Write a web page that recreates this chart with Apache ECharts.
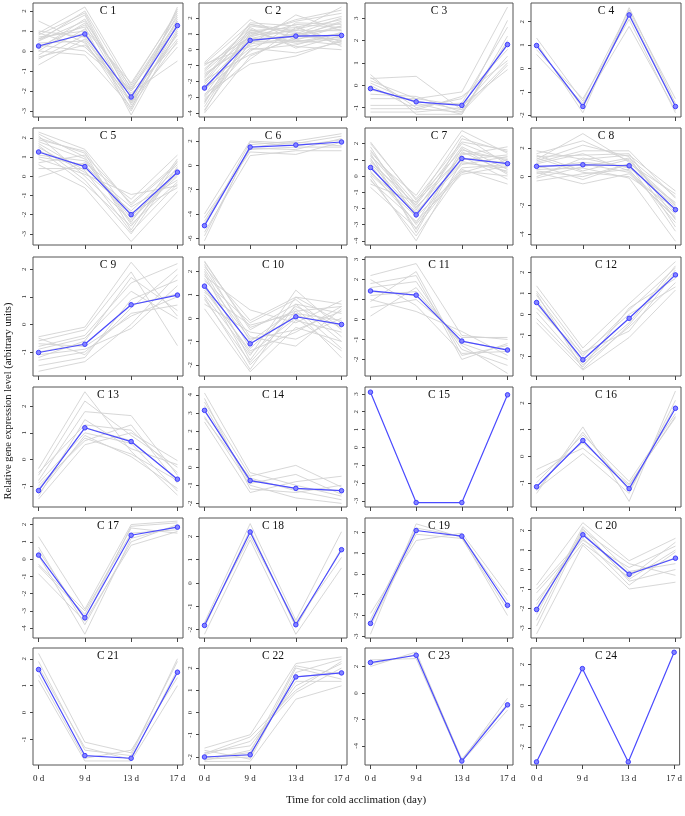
<!DOCTYPE html>
<html><head><meta charset="utf-8">
<script src="https://cdn.jsdelivr.net/npm/echarts@6/dist/echarts.min.js"></script>
<style>html,body{margin:0;padding:0;background:#fff}#c{width:685px;height:816px}</style>
</head><body><div id="c"></div>
<script>
const days = ['0 d', '9 d', '13 d', '17 d'];
const panelNames = ['C 1','C 2','C 3','C 4','C 5','C 6','C 7','C 8','C 9','C 10','C 11','C 12',
  'C 13','C 14','C 15','C 16','C 17','C 18','C 19','C 20','C 21','C 22','C 23','C 24'];
const yTitle = 'Relative gene expression level (arbitrary units)';
const xTitle = 'Time for cold acclimation (day)';

const meanLines = [
  [0.25, 0.85, -2.3, 1.27],
  [-2.42, 0.59, 0.86, 0.9],
  [-0.15, -0.74, -0.9, 1.82],
  [0.98, -1.63, 2.29, -1.63],
  [1.26, 0.5, -2.0, 0.21],
  [-4.96, 1.5, 1.67, 1.92],
  [0.52, -2.4, 1.08, 0.76],
  [0.72, 0.83, 0.76, -2.3],
  [-1.02, -0.72, 0.71, 1.06],
  [1.37, -1.1, 0.06, -0.27],
  [1.43, 1.22, -1.08, -1.53],
  [0.56, -2.16, -0.19, 1.87],
  [-1.18, 1.19, 0.67, -0.75],
  [3.14, -0.74, -1.17, -1.3],
  [3.1, -3.1, -3.1, 2.95],
  [-1.15, 0.59, -1.22, 1.8],
  [0.23, -3.4, 1.38, 1.85],
  [-1.82, 2.19, -1.79, 1.43],
  [-2.38, 2.08, 1.81, -1.51],
  [-2.05, 1.78, -0.24, 0.58],
  [1.6, -1.6, -1.7, 1.5],
  [-2.0, -1.9, 1.6, 1.78],
  [2.3, 2.85, -5.15, -0.9],
  [-2.73, 1.8, -2.73, 2.59]
];

const yMin = [-3.3,-4.25,-1.42,-2.08,-3.58,-6.55,-4.26,-4.76,-1.87,-2.48,-2.83,-2.93,
  -1.8,-2.2,-3.35,-1.91,-4.57,-2.36,-3.08,-3.51,-1.95,-2.36,-5.45,-2.88];
const yMax = [2.4,2.95,3.68,2.8,2.51,3.07,2.96,3.39,2.44,2.62,3.13,2.72,
  2.73,4.43,3.39,2.6,2.38,2.79,2.68,2.64,2.4,2.9,3.4,2.8];
const tickStep = [1,1,1,1,1,2,1,2,1,1,1,1, 1,1,1,1,1,1,1,1,1,1,2,1];

const gray1 = [[0.2,0.9,-2.3,1.3],[0.5,1.5,-2.0,1.8],[1.5,0.4,-2.6,0.9],[-0.7,0.6,-2.5,1.5],[0.9,2.2,-1.7,2.0],
  [0.0,-0.2,-2.8,0.5],[0.6,1.2,-3.2,1.0],[-0.3,0.3,-2.1,-0.5],[0.8,1.9,-2.4,1.6],[0.3,0.0,-1.9,1.2],
  [0.7,1.0,-2.9,2.2],[0.1,1.6,-2.2,0.6],[0.4,0.5,-3.0,1.4],[-0.2,1.1,-1.6,1.9],[1.0,0.7,-2.5,0.2],
  [0.6,1.8,-2.7,1.1],[0.2,1.3,-1.8,1.7],[-0.4,0.8,-2.3,0.8],[0.9,0.2,-2.0,0.4],[0.0,1.4,-2.6,2.1],[0.5,2.0,-1.9,1.5]];
const gray2 = [[-2.4,0.6,0.9,0.9],[-0.8,1.9,0.6,0.3],[-4.0,-0.4,0.8,1.5],[-1.2,1.2,1.4,0.5],[-3.2,0.0,0.3,1.1],
  [-1.8,1.6,1.0,2.0],[-2.8,-0.9,-0.4,0.6],[-1.5,0.3,2.2,1.2],[-3.6,0.9,1.2,2.7],[-2.1,1.3,0.2,0.0],
  [-1.0,0.8,1.6,1.4],[-3.0,0.4,0.5,0.8],[-2.6,1.0,1.8,2.3],[-1.9,-0.3,0.7,1.0],[-3.4,1.5,1.1,0.4],
  [-0.9,0.2,0.9,1.7],[-2.2,0.7,1.3,1.9],[-1.4,1.1,0.4,0.7],[-3.8,0.5,1.0,1.3],[-2.0,1.7,1.5,0.2],
  [-1.6,0.5,0.6,1.5],[-2.9,1.2,0.9,0.6],[-3.1,-0.6,1.4,2.1],[-1.3,1.4,0.1,0.9],[-2.5,-0.1,1.7,1.6],
  [-3.9,1.1,0.5,1.0],[-1.7,0.9,1.9,2.5],[-2.3,0.1,-0.2,0.5],[-0.9,1.6,1.2,1.2],[-3.3,0.7,0.8,1.8]];
const gray3 = [[0.48,-1.3,-1.3,2.0],[0.3,0.4,-1.1,1.0],[0.2,-0.6,-0.3,3.5],[-0.9,-0.9,-0.8,2.6],[-1.2,-1.2,-1.0,1.3],
  [0.1,-0.8,-1.3,2.2],[-0.6,-0.6,-0.9,0.7],[0.35,-1.0,-0.6,1.6],[-1.05,-1.05,-1.2,0.9],[-0.2,-0.7,-1.1,2.9],
  [0.0,-1.1,-0.5,1.1],[-0.4,-0.5,-1.2,1.9]];
const gray4 = [[1.3,-1.4,2.5,-1.3],[0.6,-1.5,1.8,-1.8],[1.1,-1.9,2.6,-1.5],[0.8,-1.3,2.1,-1.9],[1.0,-1.7,2.4,-1.6]];
const gray5 = [[1.3,0.5,-2.0,0.2],[2.3,1.4,-1.5,0.6],[1.8,0.9,-2.5,-0.3],[-0.05,0.7,-1.2,1.1],[0.6,-0.6,-3.4,-0.8],
  [1.5,0.2,-1.8,0.4],[2.0,1.2,-2.8,0.8],[0.9,0.1,-0.95,-0.5],[1.1,0.8,-2.2,0.0],[1.6,-0.2,-3.0,0.5],
  [0.4,0.4,-1.6,-0.2],[2.2,1.0,-2.4,0.9],[1.0,0.6,-1.9,-0.6],[1.4,-0.4,-2.6,0.3],[1.9,1.3,-2.1,0.1],
  [1.7,0.3,-2.9,-0.4],[0.7,1.1,-1.4,0.7],[2.1,0.0,-2.3,0.2]];
const gray6 = [[-4.0,2.0,1.8,2.4],[-4.6,1.3,1.5,1.5],[-5.5,0.8,1.2,1.2],[-6.2,1.7,2.0,2.6],[-4.3,1.1,0.9,1.9],
  [-5.0,1.9,1.6,2.1],[-5.8,1.5,1.9,1.6],[-4.8,1.4,1.3,2.2]];
const gray7 = [[0.5,-2.4,1.1,0.8],[2.1,-1.5,1.6,1.0],[-0.7,-3.2,0.4,-0.5],[1.2,-1.2,2.8,1.4],[0.0,-4.0,0.9,0.3],
  [1.6,-2.0,1.3,1.8],[-0.3,-2.8,0.1,0.6],[0.9,-1.8,2.0,0.9],[1.4,-3.5,1.5,0.2],[0.2,-2.2,0.7,1.2],
  [-0.5,-1.6,1.2,-0.2],[1.8,-2.6,2.3,1.5],[0.7,-3.0,0.5,0.7],[1.0,-2.1,1.8,0.4],[0.3,-2.9,1.4,1.1],[1.3,-1.9,0.8,0.5],
  [2.0,-1.4,2.1,1.6],[-0.2,-3.7,0.3,0.0],[0.8,-2.3,1.0,1.3],[1.5,-1.7,2.5,0.7],[0.1,-2.5,0.2,1.0],[1.1,-3.3,1.7,0.1]];
const gray8 = [[0.7,0.8,0.8,-2.3],[1.8,1.2,1.5,-1.0],[-0.3,0.2,0.5,-3.2],[1.2,3.0,1.0,-2.0],[0.3,-0.5,0.2,-2.8],
  [1.0,1.8,1.8,-1.5],[0.5,0.6,-0.1,-4.5],[1.5,0.4,1.2,-2.5],[0.0,1.3,0.6,-1.8],[1.1,2.2,1.4,-3.5],
  [0.8,-0.2,0.9,-1.2],[0.2,0.9,0.3,-2.9],[1.4,1.5,1.6,-3.0],[0.6,1.0,0.7,-2.1],
  [1.6,2.5,1.1,-1.9],[0.4,0.0,0.9,-3.8],[0.9,1.6,0.4,-2.6],[-0.1,0.7,1.3,-1.4],[1.3,0.3,0.0,-2.2]];
const gray9 = [[-1.0,-0.7,0.7,1.1],[-0.45,-0.1,2.25,0.3],[-1.7,-1.35,0.0,1.8],[-0.8,-0.4,1.5,2.2],[-1.3,-1.0,0.4,0.7],
  [-0.6,-0.2,1.9,-0.77],[-1.1,-0.9,-0.15,1.4],[-0.9,-0.5,1.2,0.2],[-1.5,-1.2,0.9,1.6],[-0.7,-0.8,0.3,1.0],
  [-1.2,-0.6,1.7,0.5],[-0.5,-1.1,0.6,2.0]];
const gray10 = [[1.4,-1.1,0.1,-0.3],[2.45,-0.5,0.6,0.2],[0.4,-2.3,-0.4,-1.0],[1.8,0.35,-0.2,0.75],[1.0,-1.6,1.2,-0.5],
  [2.1,-0.8,-1.2,0.4],[0.8,-1.9,0.3,-1.7],[1.6,-0.2,0.8,-0.8],[1.2,-1.4,-0.6,0.5],[2.3,-1.0,0.4,-1.3],
  [0.6,-0.6,-0.9,0.0],[1.9,-1.8,0.9,0.6],[1.1,-0.3,0.2,-0.1],[1.5,-2.0,-0.1,-0.6],[2.0,-1.3,0.5,-0.4],
  [2.2,-0.1,0.9,-0.2],[0.9,-2.2,0.6,-1.0],[1.7,-0.9,-0.5,0.3],[1.3,-1.5,0.0,-1.4],[2.4,-0.4,0.3,0.5]];
const gray11 = [[1.4,1.2,-1.1,-1.5],[2.2,2.8,-0.8,-1.0],[0.17,1.6,-1.3,-2.7],[1.8,2.2,-2.0,-1.2],[1.0,0.4,-0.6,-1.8],
  [1.6,1.9,-1.5,-2.3],[0.6,1.0,-0.9,-0.9],[2.0,0.7,-1.7,-1.6],[1.2,1.4,-1.2,-2.0],[0.9,2.4,-1.8,-1.3]];
const gray12 = [[0.5,-2.2,-0.2,1.9],[1.35,-1.6,0.5,2.5],[-0.4,-2.65,-1.1,1.15],[0.9,-2.0,0.2,2.2],[0.1,-2.4,-0.6,1.5],
  [1.1,-1.8,-0.8,2.0],[-0.2,-2.5,0.3,1.7],[0.7,-2.3,-0.4,2.3],[0.3,-1.9,0.0,1.3],[1.0,-2.6,-0.5,2.1]];
const gray13 = [[-1.2,1.2,0.7,-0.75],[-0.35,2.55,0.3,-1.35],[-1.5,0.55,1.0,-0.05],[-0.8,1.8,1.65,-0.6],[-1.3,0.9,0.1,-1.1],
  [-0.6,2.2,0.9,-0.3],[-1.0,0.7,1.3,-0.9],[-1.4,1.5,0.4,-0.2],[-0.9,1.0,0.6,-1.2],[-0.5,1.3,1.1,-0.5],[-1.1,0.8,0.2,-0.8]];
const gray14 = [[3.1,-0.7,-1.2,-1.3],[4.1,-0.3,-1.0,-1.6],[2.5,-1.4,-0.8,-0.5],[3.6,-0.5,0.1,-1.1],[2.8,-1.0,-1.7,-2.0],
  [3.4,-0.9,-0.4,-1.5],[3.8,-1.2,-1.4,-1.0],[2.7,-0.6,-1.3,-1.8]];
const gray15 = [];
const gray16 = [[-0.5,0.3,-1.1,1.5],[-1.4,1.1,-1.7,2.45],[-1.0,0.8,-0.95,1.6],[-1.25,0.1,-1.4,2.1],[-0.8,0.5,-1.05,1.45],[-1.3,0.9,-1.3,1.9]];
const gray17 = [[1.3,-2.9,2.0,2.2],[-0.85,-3.6,0.8,1.6],[0.2,-4.35,1.2,1.9],[-0.4,-3.2,1.8,1.5],[0.7,-3.8,1.0,2.0],
  [-0.3,-3.0,1.5,1.7],[0.5,-3.5,1.9,2.1]];
const gray18 = [[-1.7,2.55,-1.6,2.2],[-2.2,1.85,-2.2,0.65],[-1.9,2.3,-1.9,1.5],[-1.75,2.0,-1.7,1.1]];
const gray19 = [[-1.9,1.6,1.95,-1.0],[-2.9,2.4,1.75,-2.0],[-2.2,2.2,1.8,-1.3],[-2.5,1.9,1.7,-1.7]];
const gray20 = [[-2.0,1.8,-0.2,0.6],[-0.8,2.4,0.45,1.6],[-3.3,1.25,-1.0,-0.65],[-1.2,1.5,0.1,1.2],[-2.6,2.1,-0.6,0.0],
  [-1.6,1.35,-0.4,1.4],[-2.9,2.0,0.3,-0.3],[-1.0,1.6,-0.8,0.9],[-2.3,2.2,-0.1,0.3],[-1.8,1.9,-0.5,1.0]];
const gray21 = [[2.2,-1.1,-1.5,1.9],[1.2,-1.8,-1.8,1.0],[1.9,-1.4,-1.6,2.0],[1.4,-1.7,-1.4,1.3],[1.7,-1.3,-1.75,1.6]];
const gray22 = [[-2.0,-1.9,1.6,1.8],[-1.6,-1.0,2.2,2.5],[-2.2,-2.2,0.6,1.2],[-1.8,-1.5,1.2,2.2],[-2.1,-2.0,2.0,1.5],
  [-1.9,-1.3,0.9,2.0],[-1.7,-2.1,1.8,2.4],[-2.15,-1.7,1.4,1.4],[-1.85,-1.1,1.0,2.3],[-2.05,-1.8,2.1,1.7]];
const gray23 = [[2.0,3.1,-5.1,-0.4],[2.5,2.6,-5.2,-1.3],[2.2,2.9,-5.0,-0.8]];
const gray24 = [];

const grays = [gray1,gray2,gray3,gray4,gray5,gray6,gray7,gray8,gray9,gray10,gray11,gray12,
  gray13,gray14,gray15,gray16,gray17,gray18,gray19,gray20,gray21,gray22,gray23,gray24];

// layout (pixels)
const colLeft = [33, 199, 365, 531], colRight = [183, 347, 513, 681];
const rowTop = [3, 128, 257, 387, 518, 648], rowBottom = [117, 245, 376, 507, 638, 765];
const SERIF = 'Liberation Serif';

const chart = echarts.init(document.getElementById('c'), null, {renderer: 'canvas'});
const option = {animation: false, backgroundColor: '#fff', grid: [], xAxis: [], yAxis: [], series: [], title: [], graphic: []};
const xpos = [0, 1, 2, 3];

for (let i = 0; i < 24; i++) {
  const r = Math.floor(i / 4), c = i % 4;
  const L = colLeft[c], T = rowTop[r], W = colRight[c] - colLeft[c], H = rowBottom[r] - rowTop[r];
  option.grid.push({left: L, top: T, width: W, height: H, show: true, borderColor: '#555', borderWidth: 1, backgroundColor: 'transparent'});
  const st = tickStep[i];
  const ticks = [];
  for (let v = Math.ceil(yMin[i] / st) * st; v <= yMax[i] + 1e-9; v += st) ticks.push(v);
  option.xAxis.push({
    gridIndex: i, type: 'value', min: -0.12, max: 3.12, position: 'bottom',
    axisLine: {show: false, onZero: false}, splitLine: {show: false},
    axisTick: {show: true, customValues: xpos, length: 4, lineStyle: {color: '#444', width: 1}},
    axisLabel: {show: r === 5, customValues: xpos, formatter: v => days[Math.round(v)] || '',
      fontFamily: SERIF, fontSize: 9, color: '#222', margin: 9}
  });
  option.yAxis.push({
    gridIndex: i, type: 'value', min: yMin[i], max: yMax[i], position: 'left',
    axisLine: {show: false, onZero: false}, splitLine: {show: false},
    axisTick: {show: true, customValues: ticks, length: 3, lineStyle: {color: '#444', width: 1}},
    axisLabel: {customValues: ticks, rotate: 90, fontFamily: SERIF, fontSize: 7, color: '#333', margin: 5,
      formatter: v => String(Math.round(v))}
  });
  grays[i].forEach(g => {
    option.series.push({type: 'line', xAxisIndex: i, yAxisIndex: i, silent: true, symbol: 'none', z: 1,
      data: g.map((v, k) => [xpos[k], v]),
      lineStyle: {color: '#d2d2d2', width: 0.9}});
  });
  option.series.push({type: 'line', xAxisIndex: i, yAxisIndex: i, silent: true, z: 5,
    data: meanLines[i].map((v, k) => [xpos[k], v]),
    symbol: 'circle', symbolSize: 4.5,
    itemStyle: {color: '#8585ff', borderColor: '#3d3dff', borderWidth: 1},
    lineStyle: {color: '#4b4bff', width: 1.2}});
  option.title.push({text: panelNames[i], left: L + W / 2, top: T + 2, textAlign: 'center', padding: 0,
    textStyle: {fontFamily: SERIF, fontSize: 11.5, fontWeight: 'normal', color: '#111'}});
}

option.graphic.push({type: 'text', x: 8, y: 401, rotation: Math.PI / 2,
  style: {text: yTitle, font: '10.5px "Liberation Serif"', fill: '#111', textAlign: 'center', textVerticalAlign: 'middle'}});
option.graphic.push({type: 'text', x: 356, y: 800,
  style: {text: xTitle, font: '11px "Liberation Serif"', fill: '#111', textAlign: 'center', textVerticalAlign: 'middle'}});

chart.setOption(option);
</script>
</body></html>
